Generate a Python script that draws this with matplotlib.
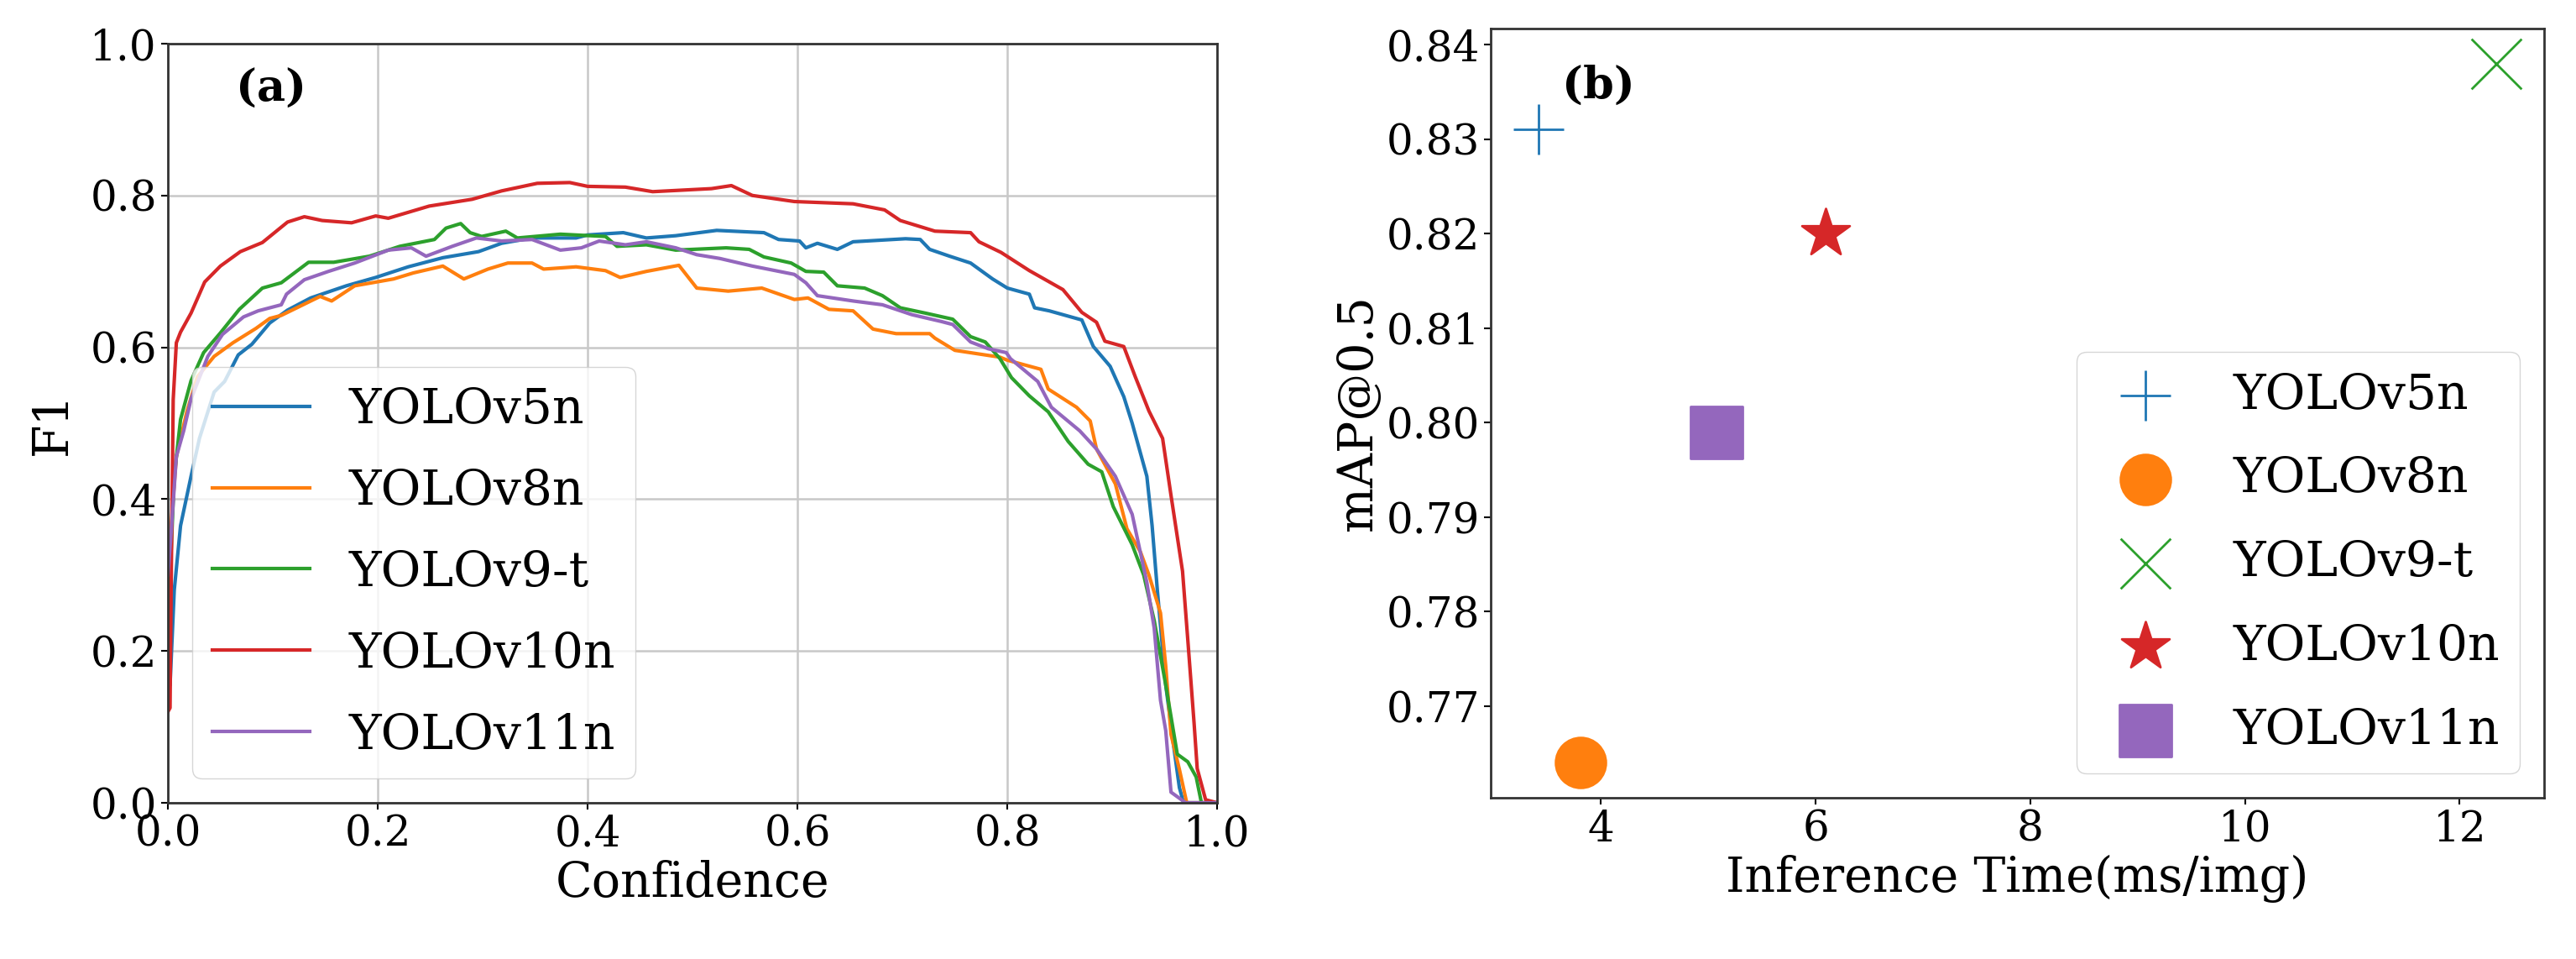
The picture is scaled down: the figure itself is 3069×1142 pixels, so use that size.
import matplotlib
matplotlib.use("Agg")
import matplotlib.pyplot as plt

plt.rcParams['font.family'] = ['DejaVu Serif', 'DejaVu Sans']

models = ['YOLOv5n', 'YOLOv8n', 'YOLOv9-t', 'YOLOv10n', 'YOLOv11n']
colors = ['tab:blue', 'tab:orange', 'tab:green', 'tab:red', 'tab:purple']

# (a) F1-confidence curves, (confidence, F1)
f1_v5n = [(0.0, 0.15), (0.002, 0.155), (0.006, 0.28), (0.012, 0.365), (0.022, 0.43),
          (0.03, 0.48), (0.044, 0.541), (0.054, 0.555), (0.067, 0.59), (0.08, 0.604),
          (0.097, 0.632), (0.114, 0.649), (0.136, 0.665), (0.17, 0.681), (0.198, 0.692),
          (0.229, 0.706), (0.262, 0.718), (0.296, 0.726), (0.318, 0.737), (0.347, 0.744),
          (0.389, 0.744), (0.4, 0.748), (0.434, 0.751), (0.456, 0.744), (0.484, 0.747),
          (0.523, 0.754), (0.568, 0.751), (0.582, 0.742), (0.602, 0.74), (0.608, 0.731),
          (0.619, 0.737), (0.638, 0.729), (0.653, 0.739), (0.703, 0.743), (0.717, 0.742),
          (0.726, 0.729), (0.745, 0.72), (0.765, 0.711), (0.786, 0.69), (0.8, 0.678),
          (0.821, 0.67), (0.826, 0.652), (0.84, 0.648), (0.871, 0.636), (0.882, 0.601),
          (0.898, 0.575), (0.911, 0.535), (0.919, 0.5), (0.933, 0.43), (0.938, 0.365),
          (0.943, 0.28), (0.951, 0.155), (0.958, 0.08), (0.964, 0.02), (0.968, 0.0),
          (1.0, 0.0)]

f1_v8n = [(0.0, 0.3), (0.003, 0.365), (0.008, 0.456), (0.018, 0.515), (0.028, 0.561),
          (0.044, 0.588), (0.062, 0.606), (0.084, 0.625), (0.097, 0.638), (0.108, 0.642),
          (0.145, 0.667), (0.156, 0.661), (0.178, 0.681), (0.215, 0.69), (0.234, 0.698),
          (0.262, 0.707), (0.282, 0.69), (0.305, 0.703), (0.324, 0.711), (0.347, 0.711),
          (0.358, 0.703), (0.389, 0.706), (0.417, 0.701), (0.431, 0.692), (0.456, 0.7),
          (0.487, 0.708), (0.504, 0.678), (0.534, 0.674), (0.566, 0.678), (0.597, 0.663),
          (0.61, 0.665), (0.63, 0.65), (0.653, 0.648), (0.672, 0.624), (0.694, 0.618),
          (0.726, 0.618), (0.731, 0.612), (0.75, 0.596), (0.793, 0.587), (0.8, 0.583),
          (0.832, 0.571), (0.839, 0.545), (0.866, 0.521), (0.879, 0.503), (0.885, 0.466),
          (0.903, 0.42), (0.914, 0.361), (0.927, 0.33), (0.935, 0.3), (0.946, 0.25),
          (0.951, 0.18), (0.956, 0.09), (0.964, 0.044), (0.971, 0.0), (1.0, 0.0)]

f1_v9t = [(0.0, 0.2), (0.003, 0.33), (0.006, 0.43), (0.012, 0.505), (0.022, 0.556),
          (0.034, 0.593), (0.05, 0.619), (0.068, 0.65), (0.09, 0.678), (0.108, 0.685),
          (0.134, 0.712), (0.158, 0.712), (0.192, 0.72), (0.221, 0.733), (0.254, 0.742),
          (0.265, 0.757), (0.279, 0.763), (0.288, 0.751), (0.299, 0.746), (0.322, 0.753),
          (0.333, 0.744), (0.374, 0.749), (0.417, 0.746), (0.428, 0.733), (0.456, 0.735),
          (0.484, 0.728), (0.532, 0.731), (0.554, 0.729), (0.568, 0.719), (0.594, 0.711),
          (0.608, 0.7), (0.625, 0.699), (0.638, 0.681), (0.664, 0.678), (0.681, 0.668),
          (0.698, 0.652), (0.722, 0.645), (0.748, 0.637), (0.765, 0.614), (0.779, 0.607),
          (0.793, 0.585), (0.804, 0.56), (0.821, 0.536), (0.839, 0.515), (0.858, 0.476),
          (0.877, 0.446), (0.89, 0.436), (0.901, 0.39), (0.919, 0.34), (0.93, 0.3),
          (0.94, 0.24), (0.951, 0.155), (0.962, 0.064), (0.972, 0.054), (0.98, 0.034),
          (0.985, 0.0), (1.0, 0.0)]

f1_v10n = [(0.0, 0.12), (0.002, 0.125), (0.003, 0.28), (0.005, 0.531), (0.008, 0.606),
           (0.012, 0.62), (0.022, 0.645), (0.035, 0.686), (0.05, 0.707), (0.069, 0.726),
           (0.09, 0.738), (0.114, 0.765), (0.13, 0.772), (0.147, 0.767), (0.175, 0.764),
           (0.198, 0.773), (0.21, 0.77), (0.249, 0.786), (0.29, 0.795), (0.318, 0.806),
           (0.352, 0.816), (0.383, 0.817), (0.4, 0.812), (0.436, 0.811), (0.462, 0.805),
           (0.518, 0.809), (0.537, 0.813), (0.557, 0.8), (0.597, 0.792), (0.653, 0.789),
           (0.683, 0.781), (0.698, 0.767), (0.731, 0.753), (0.765, 0.751), (0.773, 0.739),
           (0.794, 0.725), (0.821, 0.701), (0.853, 0.676), (0.871, 0.646), (0.885, 0.633),
           (0.893, 0.608), (0.911, 0.601), (0.922, 0.561), (0.935, 0.516), (0.948, 0.48),
           (0.956, 0.405), (0.967, 0.305), (0.972, 0.215), (0.978, 0.105), (0.981, 0.045),
           (0.989, 0.004), (1.0, 0.0)]

f1_v11n = [(0.0, 0.3), (0.003, 0.355), (0.008, 0.456), (0.015, 0.49), (0.022, 0.532),
           (0.038, 0.588), (0.052, 0.617), (0.072, 0.64), (0.086, 0.648), (0.108, 0.656),
           (0.113, 0.67), (0.13, 0.689), (0.153, 0.7), (0.178, 0.711), (0.21, 0.728),
           (0.232, 0.731), (0.246, 0.72), (0.271, 0.733), (0.294, 0.744), (0.318, 0.74),
           (0.347, 0.742), (0.374, 0.728), (0.394, 0.731), (0.411, 0.74), (0.436, 0.735),
           (0.456, 0.739), (0.484, 0.731), (0.504, 0.722), (0.526, 0.717), (0.557, 0.707),
           (0.597, 0.696), (0.608, 0.685), (0.619, 0.668), (0.653, 0.661), (0.681, 0.656),
           (0.709, 0.643), (0.737, 0.634), (0.748, 0.63), (0.765, 0.607), (0.782, 0.598),
           (0.799, 0.593), (0.803, 0.585), (0.829, 0.555), (0.842, 0.521), (0.869, 0.49),
           (0.885, 0.466), (0.903, 0.43), (0.919, 0.38), (0.933, 0.29), (0.94, 0.23),
           (0.946, 0.135), (0.951, 0.095), (0.956, 0.014), (0.964, 0.006), (0.97, 0.0),
           (1.0, 0.0)]

f1_curves = [f1_v5n, f1_v8n, f1_v9t, f1_v10n, f1_v11n]

# (b) speed vs accuracy
infer_time = [3.42, 3.81, 12.34, 6.09, 5.08]
map50 = [0.831, 0.764, 0.838, 0.820, 0.799]
markers = ['+', 'o', 'x', '*', 's']
marker_sizes = [1850, 1850, 1850, 1850, 1950]

fig = plt.figure(figsize=(30.69, 11.42), dpi=100)
ax1 = fig.add_axes([0.0652, 0.1629, 0.4073, 0.7916])
ax2 = fig.add_axes([0.5787, 0.1681, 0.4089, 0.8021])

tick_fs = 36
label_fs = 41
legend_fs = 42

# panel (a)
for curve, name, c in zip(f1_curves, models, colors):
    xs = [p[0] for p in curve]
    ys = [p[1] for p in curve]
    ax1.plot(xs, ys, color=c, lw=3, label=name)
ax1.set_xlim(0, 1)
ax1.set_ylim(0, 1)
ax1.set_xticks([0.0, 0.2, 0.4, 0.6, 0.8, 1.0])
ax1.set_yticks([0.0, 0.2, 0.4, 0.6, 0.8, 1.0])
ax1.grid(True, color='#c8c8c8', lw=1.8)
ax1.set_axisbelow(True)
ax1.set_xlabel('Confidence', fontsize=label_fs)
ax1.set_ylabel('F1', fontsize=label_fs, labelpad=12)
ax1.text(0.098, 0.94, '(a)', fontsize=38, fontweight='bold', ha='center', va='center')
ax1.legend(loc='lower left', fontsize=legend_fs, labelspacing=0.7)

# panel (b)
for x, y, name, c, m, s in zip(infer_time, map50, models, colors, markers, marker_sizes):
    ax2.scatter(x, y, marker=m, s=s, color=c, linewidths=2, label=name)
ax2.set_xticks([4, 6, 8, 10, 12])
ax2.set_yticks([0.77, 0.78, 0.79, 0.80, 0.81, 0.82, 0.83, 0.84])
ax2.set_yticklabels(['0.77', '0.78', '0.79', '0.80', '0.81', '0.82', '0.83', '0.84'])
ax2.set_xlabel('Inference Time(ms/img)', fontsize=label_fs)
ax2.set_ylabel('mAP@0.5', fontsize=label_fs)
ax2.text(3.98, 0.8356, '(b)', fontsize=38, fontweight='bold', ha='center', va='center')
ax2.legend(loc='lower right', fontsize=legend_fs, scatterpoints=1, labelspacing=0.75)

for ax in (ax1, ax2):
    ax.tick_params(labelsize=tick_fs, width=1.5, length=6)
    for sp in ax.spines.values():
        sp.set_linewidth(2)
        sp.set_color('#333333')

fig.savefig('out.png', dpi=100)
